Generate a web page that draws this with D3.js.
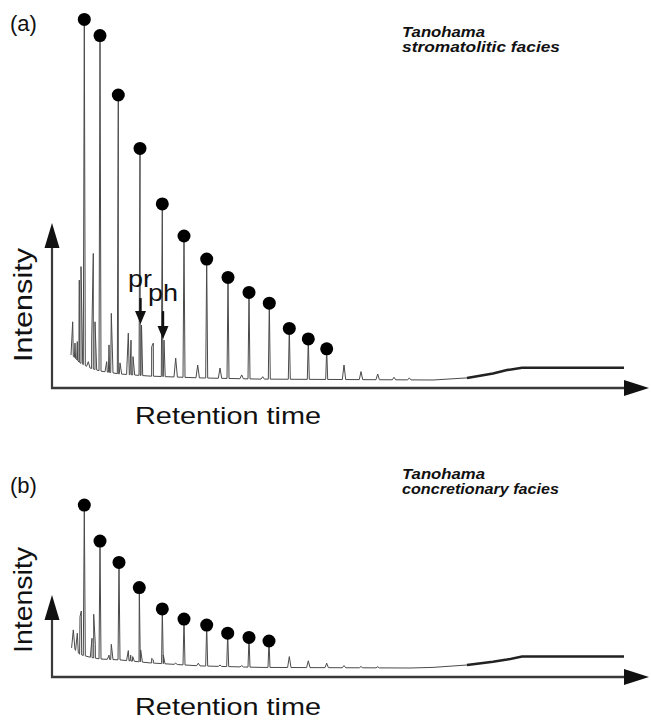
<!DOCTYPE html>
<html>
<head>
<meta charset="utf-8">
<script src="https://cdn.jsdelivr.net/npm/d3@7"></script>
<style>
  body { margin: 0; background: #fff; }
  text { font-family: "Liberation Sans", Arial, Helvetica, sans-serif; fill: #111; }
</style>
</head>
<body>
<div id="chart"></div>
<script>
// ---------------- data (retention time / intensity, arbitrary units) ----------------
// (a) stromatolitic facies
var alkanesA_t = [3.23, 4.8, 6.63, 8.8, 11.03, 13.2, 15.47, 17.6, 19.7, 21.73, 23.73, 25.63, 27.47];
var alkanesA_i = [120.2, 114.8, 95, 77.2, 58.7, 48, 40.3, 34.2, 29.2, 25.6, 17.2, 13.7, 10.4];
var minorA_t = [2.07, 2.3, 2.53, 2.73, 2.9, 3.63, 3.97, 4.13, 4.3, 5.47, 5.7, 5.93, 6.8, 7.63, 7.9, 8.1,
                9.97, 10.13, 12.37, 14.57, 16.8, 18.97, 21.07, 29.2, 30.9, 32.57, 34.2, 35.73];
var minorA_i = [19.4, 12.3, 12.8, 33.3, 37.8, 6.1, 13.3, 42.2, 19.4, 6.1, 11.7, 22.2, 5.7, 15.6, 13.3, 7.8,
                11.1, 12.3, 7.3, 5, 4, 1.7, 1.1, 5, 2.8, 2, 0.9, 0.7];
var isoA_t = [8.95, 11.2];
var isoA_i = [18.3, 13.3];
var isoLabels = ["pr", "ph"];
var baseA_t = [2.0, 2.8, 3.8, 4.8, 6.8, 9.8, 14.8, 20.8, 38.1, 41.5, 44.1, 45.5, 47.0, 57.2];
var baseA_i = [8.3, 5.7, 4.0, 3.0, 2.0, 1.3, 0.7, 0.3, 0, 0.7, 2.2, 3.3, 4.1, 4.1];

// (b) concretionary facies
var alkanesB_t = [3.23, 4.8, 6.7, 8.73, 11.03, 13.2, 15.47, 17.57, 19.7, 21.7];
var alkanesB_i = [54.3, 42.3, 35.2, 26.8, 19.7, 16.3, 14.3, 11.6, 10.2, 9];
var minorB_t = [2.13, 2.53, 2.8, 2.93, 4.0, 4.17, 4.33, 5.7, 5.93, 7.63, 7.87, 8.07, 8.87, 9.97, 10.13,
                11.13, 12.37, 14.63, 16.8, 18.97, 23.73, 25.63, 27.47, 29.2, 30.9, 32.57];
var minorB_i = [12.7, 11.6, 17.1, 19, 9.9, 17.9, 7.9, 4.3, 7.9, 5.8, 4.3, 3.8, 6, 3.2, 2.7,
                4.3, 1.6, 1.6, 1, 0.8, 3.8, 2.4, 1.6, 0.8, 0.5, 0.4];
var baseB_t = [2.1, 2.8, 3.8, 4.8, 6.8, 9.8, 14.8, 20.8, 35.8, 38.1, 41.5, 44.1, 45.5, 47.0, 57.2];
var baseB_i = [6.7, 4.5, 3.6, 3.0, 2.7, 1.7, 0.7, 0.2, 0, 0.2, 1.0, 2.1, 2.8, 3.8, 3.8];

var xLabel = "Retention time", yLabel = "Intensity";

// ---------------- layout ----------------
var width = 651, height = 720;
var panels = [
  { tag: "(a)", tagY: 31, base: 380, axisY: 388, arrowTop: 223, yLabelY: 305, yLabelLen: 114, xLabelY: 424,
    title: ["Tanohama", "stromatolitic facies"], titleY: [37, 52], titleLen: [83, 158],
    alk: [alkanesA_t, alkanesA_i], minor: [minorA_t, minorA_i], iso: [isoA_t, isoA_i], baseline: [baseA_t, baseA_i] },
  { tag: "(b)", tagY: 493, base: 668, axisY: 677, arrowTop: 595, yLabelY: 600, yLabelLen: 106, xLabelY: 715,
    title: ["Tanohama", "concretionary facies"], titleY: [479, 494], titleLen: [83, 157],
    alk: [alkanesB_t, alkanesB_i], minor: [minorB_t, minorB_i], iso: null, baseline: [baseB_t, baseB_i] }
];

var svg = d3.select("#chart").append("svg")
  .attr("width", width)
  .attr("height", height);

var x = d3.scaleLinear().domain([0, 60]).range([52, 652]);
var axisX0 = 52, arrowTipX = 649;

//builds the chromatogram trace: baseline with narrow spikes for every peak
function buildTrace(baseT, baseI, peaks) {
  var base = d3.scaleLinear().domain(baseT).range(baseI).clamp(true);
  var pts = baseT.map(function(t, k) { return [t, baseI[k]]; })
    .filter(function(q) {
      return !peaks.some(function(p) { return q[0] > p.t - p.w && q[0] < p.t + p.w; });
    });
  peaks.forEach(function(p) {
    pts.push([p.t - p.w, base(p.t - p.w)], [p.t, p.i], [p.t + p.w, base(p.t + p.w)]);
  });
  pts.sort(function(a, b) { return a[0] - b[0]; });
  return pts;
}

panels.forEach(function(P) {
  var y = d3.scaleLinear().domain([0, 100]).range([P.base, P.base - 300]);
  var g = svg.append("g");

  var peaks = [];
  P.alk[0].forEach(function(t, k) { peaks.push({ t: t, i: P.alk[1][k], w: 0.1 }); });
  P.minor[0].forEach(function(t, k) { peaks.push({ t: t, i: P.minor[1][k], w: 0.17 }); });
  if (P.iso) P.iso[0].forEach(function(t, k) { peaks.push({ t: t, i: P.iso[1][k], w: 0.12 }); });

  var line = d3.line().x(function(d) { return x(d[0]); }).y(function(d) { return y(d[1]); });

  // trace
  g.append("path")
    .attr("d", line(buildTrace(P.baseline[0], P.baseline[1], peaks)))
    .style("fill", "none")
    .style("stroke", "#4a4a4a")
    .style("stroke-width", 1)
    .style("stroke-linejoin", "round");

  // thicker column bleed / plateau at the end
  var late = P.baseline[0].map(function(t, k) { return [t, P.baseline[1][k]]; })
    .filter(function(d) { return d[0] >= 41.5; });
  g.append("path")
    .attr("d", line(late))
    .style("fill", "none")
    .style("stroke", "#222")
    .style("stroke-width", 2.5);

  // n-alkane dots
  g.selectAll("circle.alk")
    .data(P.alk[0])
    .enter().append("circle")
    .attr("class", "alk")
    .attr("cx", function(t) { return x(t); })
    .attr("cy", function(t, k) { return y(P.alk[1][k]); })
    .attr("r", 6.5)
    .style("fill", "#000");

  // pristane / phytane arrows
  if (P.iso) {
    var labelDx = [-12.5, -15], labelY = [287, 301], shaft = [26, 28];
    P.iso[0].forEach(function(t, k) {
      var px = x(t) - 1, tip = y(P.iso[1][k]) - 1;
      g.append("line")
        .attr("x1", px).attr("x2", px)
        .attr("y1", tip - shaft[k]).attr("y2", tip - 8)
        .style("stroke", "#111").style("stroke-width", 2.4);
      g.append("path")
        .attr("d", "M" + (px - 5.5) + "," + (tip - 13) + "L" + (px + 5.5) + "," + (tip - 13) + "L" + px + "," + tip + "Z")
        .style("fill", "#111");
      g.append("text")
        .attr("x", px + labelDx[k])
        .attr("y", labelY[k])
        .attr("textLength", k === 0 ? 24 : 30)
        .attr("lengthAdjust", "spacingAndGlyphs")
        .style("font-size", "24px")
        .text(isoLabels[k]);
    });
  }

  // axes
  g.append("line")
    .attr("x1", axisX0).attr("x2", axisX0)
    .attr("y1", P.axisY + 1).attr("y2", P.arrowTop + 20)
    .style("stroke", "#3a3a3a").style("stroke-width", 2.2);
  g.append("path")
    .attr("d", "M" + (axisX0 - 7.5) + "," + (P.arrowTop + 25) + "L" + (axisX0 + 7.5) + "," + (P.arrowTop + 25) +
      "L" + axisX0 + "," + P.arrowTop + "Z")
    .style("fill", "#111");
  g.append("line")
    .attr("x1", axisX0 - 1).attr("x2", arrowTipX - 20)
    .attr("y1", P.axisY).attr("y2", P.axisY)
    .style("stroke", "#3a3a3a").style("stroke-width", 2.5);
  g.append("path")
    .attr("d", "M" + (arrowTipX - 25) + "," + (P.axisY - 8) + "L" + arrowTipX + "," + P.axisY +
      "L" + (arrowTipX - 25) + "," + (P.axisY + 8) + "Z")
    .style("fill", "#111");

  // labels
  g.append("text")
    .attr("x", 10).attr("y", P.tagY)
    .style("font-size", "22px")
    .text(P.tag);

  g.append("text")
    .attr("transform", "translate(32," + P.yLabelY + ") rotate(-90)")
    .attr("text-anchor", "middle")
    .attr("textLength", P.yLabelLen)
    .attr("lengthAdjust", "spacingAndGlyphs")
    .style("font-size", "25px")
    .text(yLabel);

  g.append("text")
    .attr("x", 135).attr("y", P.xLabelY)
    .attr("textLength", 186)
    .attr("lengthAdjust", "spacingAndGlyphs")
    .style("font-size", "24px")
    .text(xLabel);

  P.title.forEach(function(s, k) {
    g.append("text")
      .attr("x", 402).attr("y", P.titleY[k])
      .attr("textLength", P.titleLen[k])
      .attr("lengthAdjust", "spacingAndGlyphs")
      .style("font-size", "14.5px")
      .style("font-weight", "bold")
      .style("font-style", "italic")
      .text(s);
  });
});
</script>
</body>
</html>
